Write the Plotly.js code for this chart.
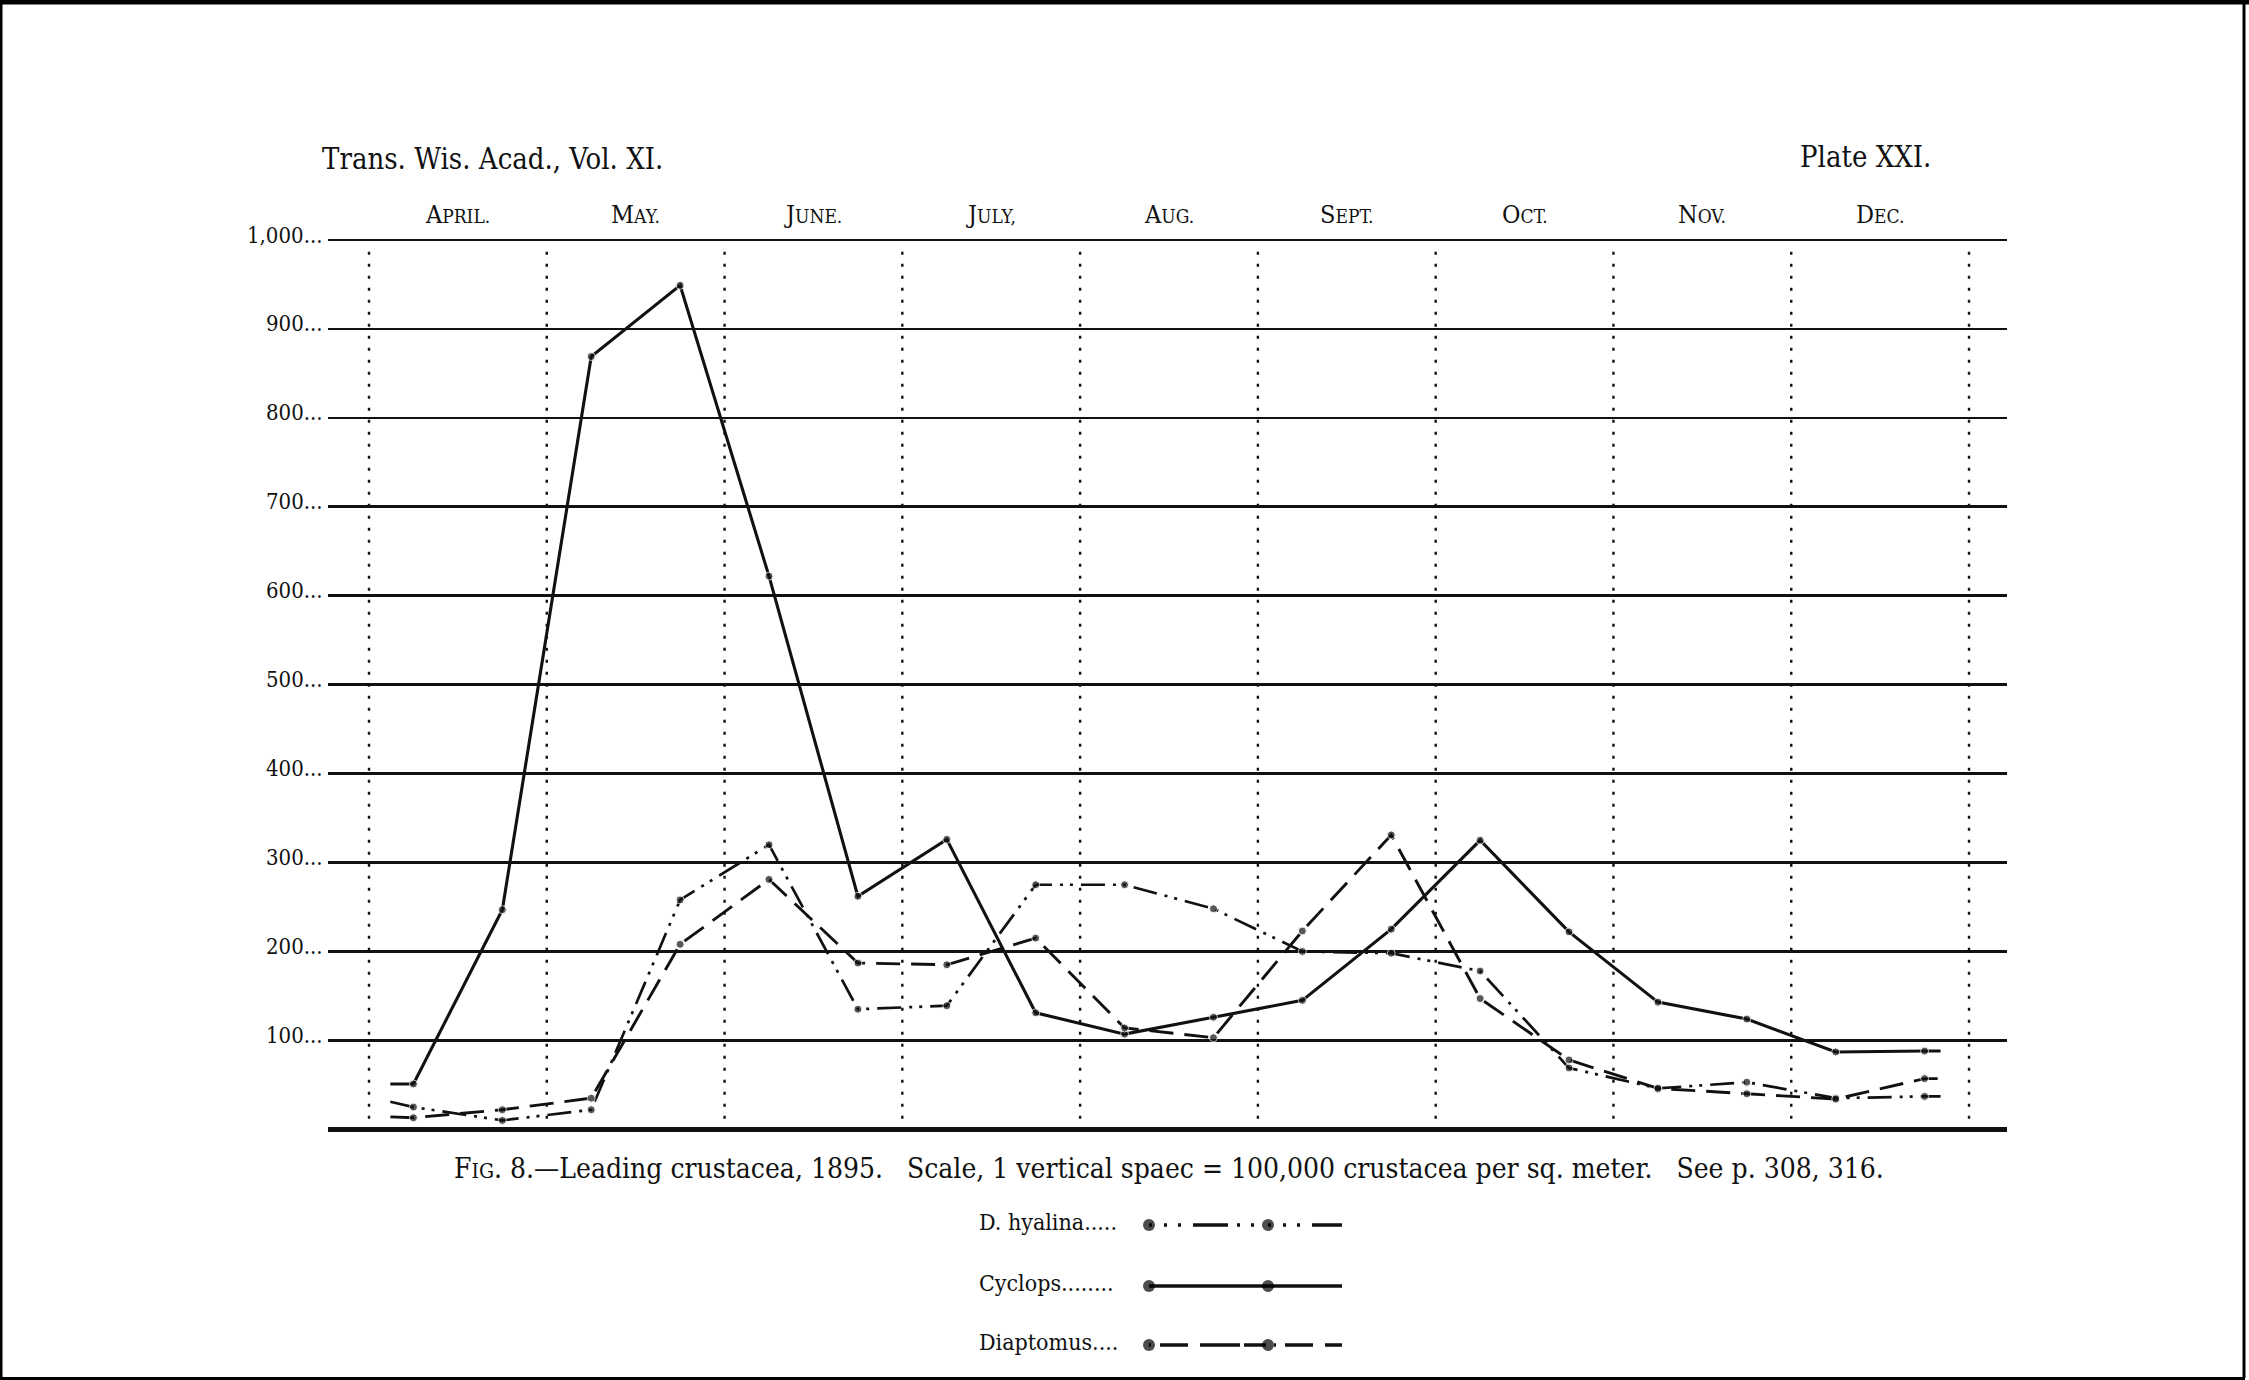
<!DOCTYPE html>
<html>
<head>
<meta charset="utf-8">
<script src="https://cdn.plot.ly/plotly-3.0.1.min.js"></script>
<style>html,body{margin:0;padding:0;background:#fff;}#chart{width:2249px;height:1380px;}</style>
</head>
<body>
<div id="chart"></div>
<script>
// ---------------- data ----------------
// sampling dates in months after April 1 (first/last entries are the short line stubs)
const sampleMonths = [0.12, 0.25, 0.75, 1.25, 1.75, 2.25, 2.75, 3.25, 3.75, 4.25, 4.75, 5.25, 5.75, 6.25, 6.75, 7.25, 7.75, 8.25, 8.75, 8.84];
// thousands of crustacea per sq. meter
const hyalina   = [31, 25, 10, 22, 258, 320, 135, 139, 275, 275, 248, 200, 198, 178, 69, 46, 53, 35, 37, 37];
const cyclops   = [51, 51, 247, 869, 949, 622, 262, 326, 131, 107, 126, 145, 225, 325, 222, 143, 124, 87, 88, 88];
const diaptomus = [14, 13, 22, 35, 208, 281, 187, 185, 215, 114, 103, 223, 331, 147, 78, 46, 40, 34, 57, 57];
const monthLabels = [["A","PRIL."],["M","AY."],["J","UNE."],["J","ULY,"],["A","UG."],["S","EPT."],["O","CT."],["N","OV."],["D","EC."]];
const monthBoundaries = [0,1,2,3,4,5,6,7,8,9];
const yTickVals = [100,200,300,400,500,600,700,800,900,1000];
const yTickText = ["100...","200...","300...","400...","500...","600...","700...","800...","900...","1,000..."];
const seriesNames = ["D. hyalina.....", "Cyclops........", "Diaptomus...."];

// ---------------- layout constants ----------------
const W = 2249, H = 1380;
const PX = p => p / W, PY = p => 1 - p / H;
const X0PX = 369, MPX = 177.78;          // pixel of April 1, pixels per month
const PLOT_L = 328, PLOT_R = 2007;
const Y0PX = 1129.3, YPPU = 0.8893;      // pixel of zero, pixels per unit
const YMIN = -1.5, YMAX = 1002;
const FONT = "DejaVu Serif Condensed, DejaVu Serif, serif";
const INK = "#111";

const DASH_HYAL = "24px,8px,3px,7px,3px,8px";
const DASH_DIAP = "24px,11px";

function markerSizes(n, s){ const a=[]; for(let i=0;i<n;i++) a.push((i===0||i===n-1)?0:s); return a; }

const traces = [
  {x: sampleMonths, y: hyalina, mode: "lines+markers", name: seriesNames[0],
   line:{color:INK, width:2.7, dash:DASH_HYAL}, marker:{color:INK, size:markerSizes(sampleMonths.length,8)}, cliponaxis:false},
  {x: sampleMonths, y: cyclops, mode: "lines+markers", name: seriesNames[1],
   line:{color:INK, width:3.1}, marker:{color:INK, size:markerSizes(sampleMonths.length,8)}, cliponaxis:false},
  {x: sampleMonths, y: diaptomus, mode: "lines+markers", name: seriesNames[2],
   line:{color:INK, width:2.9, dash:DASH_DIAP}, marker:{color:INK, size:markerSizes(sampleMonths.length,8)}, cliponaxis:false}
];

// legend samples on a full-page pixel axis pair
const LEG_X0 = 1149, LEG_XM = 1268, LEG_X1 = 1342, LEG_TEXT_X = 977;
const LEG_Y = [1225, 1286, 1345];
const legDash = ["3px,12px,3px,11px,3px,12px,35px,9px,3px,11px,3px,14px", "solid", "2px,9px,28px,12px,40px,4px,22px,8px"];
for (let i=0;i<3;i++){
  traces.push({x:[LEG_X0, LEG_XM, LEG_X1], y:[LEG_Y[i],LEG_Y[i],LEG_Y[i]], xaxis:"x2", yaxis:"y2",
    mode:"lines+markers", line:{color:INK, width:3.4, dash:legDash[i]},
    marker:{color:"#000", size:[12,12,0], line:{width:0}}, showlegend:false, hoverinfo:"skip", cliponaxis:false});
}

const shapes = [];
// vertical dotted month lines
monthBoundaries.forEach(m => shapes.push({type:"line", xref:"x", yref:"y", x0:m, x1:m, y0:12, y1:988,
  line:{color:INK, width:2.4, dash:"3px,9px"}}));
// page border
shapes.push({type:"line", xref:"paper", yref:"paper", x0:0, x1:1, y0:PY(2), y1:PY(2), line:{color:"#000", width:5}});
shapes.push({type:"line", xref:"paper", yref:"paper", x0:PX(1), x1:PX(1), y0:0, y1:1, line:{color:"#000", width:3}});
shapes.push({type:"line", xref:"paper", yref:"paper", x0:0, x1:PX(2245), y0:PY(1378.5), y1:PY(1378.5), line:{color:"#000", width:3}});
shapes.push({type:"line", xref:"paper", yref:"paper", x0:PX(2244), x1:PX(2244), y0:PY(4), y1:PY(1378), line:{color:"#000", width:3}});

const ann = [];
monthLabels.forEach((m,i) => ann.push({xref:"x", yref:"paper", x:i+0.5, y:PY(214), showarrow:false,
  xanchor:"center", yanchor:"middle",
  text: m[0] + "<span style='font-size:19px'>" + m[1] + "</span>", font:{family:FONT, size:25, color:INK}}));
yTickVals.forEach((v,i) => ann.push({xref:"paper", yref:"y", x:PX(325), y:v, xanchor:"right", yanchor:"middle",
  yshift:5, showarrow:false, text:yTickText[i], font:{family:FONT, size:22, color:INK}}));
ann.push({xref:"paper", yref:"paper", x:PX(320), y:PY(159), xanchor:"left", yanchor:"middle", showarrow:false,
  text:"Trans. Wis. Acad., Vol. XI.", font:{family:FONT, size:29, color:INK}});
ann.push({xref:"paper", yref:"paper", x:PX(1933), y:PY(157), xanchor:"right", yanchor:"middle", showarrow:false,
  text:"Plate XXI.", font:{family:FONT, size:29, color:INK}});
const SP = "\u00A0\u00A0\u00A0";
ann.push({xref:"paper", yref:"paper", x:PX(1169), y:PY(1168), xanchor:"center", yanchor:"middle", showarrow:false,
  text:"F<span style='font-size:21px'>IG</span>. 8.—Leading crustacea, 1895." + SP + "Scale, 1 vertical spaec = 100,000 crustacea per sq. meter." + SP + "See p. 308, 316.",
  font:{family:FONT, size:28, color:INK}});
seriesNames.forEach((n,i) => ann.push({xref:"paper", yref:"paper", x:PX(LEG_TEXT_X), y:PY(LEG_Y[i]-3), xanchor:"left", yanchor:"middle",
  showarrow:false, text:n, font:{family:FONT, size:23, color:INK}}));

const layout = {
  width:W, height:H, autosize:false, margin:{l:0,r:0,t:0,b:0},
  paper_bgcolor:"#fff", plot_bgcolor:"rgba(0,0,0,0)", showlegend:false,
  font:{family:FONT, color:INK},
  xaxis:{domain:[PX(PLOT_L), PX(PLOT_R)], range:[(PLOT_L-X0PX)/MPX, (PLOT_R-X0PX)/MPX],
    showgrid:false, zeroline:false, showticklabels:false, ticks:"", showline:false, fixedrange:true},
  yaxis:{domain:[PY(Y0PX - YMIN*YPPU), PY(Y0PX - YMAX*YPPU)], range:[YMIN, YMAX],
    tickvals:yTickVals, ticks:"", showticklabels:false,
    showgrid:true, gridcolor:INK, gridwidth:2.6, zeroline:true, zerolinecolor:INK, zerolinewidth:4.5,
    showline:false, fixedrange:true},
  xaxis2:{domain:[0,1], range:[0,W], visible:false, anchor:"y2", fixedrange:true},
  yaxis2:{domain:[0,1], range:[H,0], visible:false, anchor:"x2", fixedrange:true},
  shapes:shapes, annotations:ann
};

Plotly.newPlot("chart", traces, layout, {staticPlot:true, displayModeBar:false});
</script>
</body>
</html>
